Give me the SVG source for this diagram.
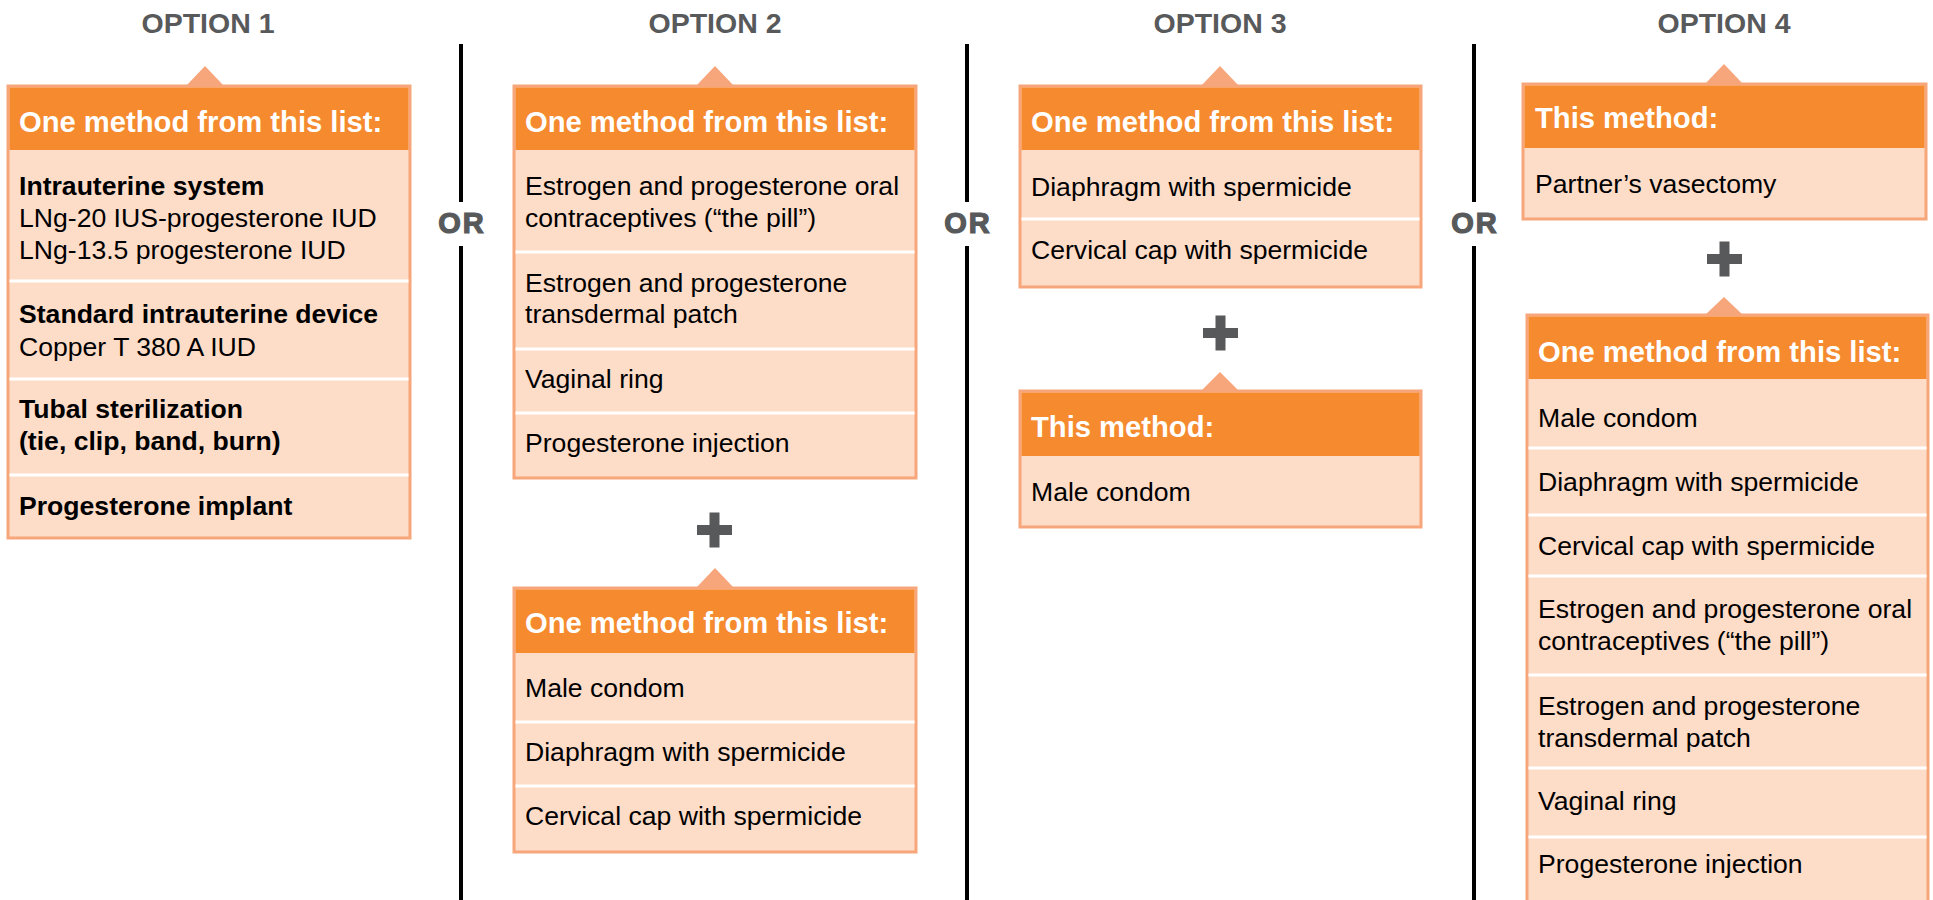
<svg xmlns="http://www.w3.org/2000/svg" width="1933" height="900" viewBox="0 0 1933 900">
<style>
.box{fill:#FDDCC8;stroke:#F7A67B;stroke-width:3}
.hdr{fill:#F58A2F}
.tri{fill:#F7A67B}
.sep{stroke:#FFFFFF;stroke-width:3}
.ht{font-family:"Liberation Sans",Arial,sans-serif;font-weight:bold;font-size:29.2px;fill:#FFFFFF}
.bt{font-family:"Liberation Sans",Arial,sans-serif;font-size:26.6px;fill:#000000}
.bb{font-family:"Liberation Sans",Arial,sans-serif;font-size:26.6px;font-weight:bold;fill:#000000}
.opt{font-family:"Liberation Sans",Arial,sans-serif;font-weight:bold;font-size:28.5px;fill:#58595B;text-anchor:middle}
.or{font-family:"Liberation Sans",Arial,sans-serif;font-weight:bold;font-size:29px;letter-spacing:2px;fill:#58595B;stroke:#58595B;stroke-width:1.2;text-anchor:middle}
.vl{stroke:#000000;stroke-width:4}
.plus{fill:#58595B}
</style>
<rect width="1933" height="900" fill="#FFFFFF"/>

<g id="connectors">
  <line class="vl" x1="461" y1="44" x2="461" y2="202"/>
  <line class="vl" x1="461" y1="246" x2="461" y2="900"/>
  <line class="vl" x1="967" y1="44" x2="967" y2="202"/>
  <line class="vl" x1="967" y1="246" x2="967" y2="900"/>
  <line class="vl" x1="1474" y1="44" x2="1474" y2="202"/>
  <line class="vl" x1="1474" y1="246" x2="1474" y2="900"/>
  <text class="or" x="462" y="233">OR</text>
  <text class="or" x="968" y="233">OR</text>
  <text class="or" x="1475" y="233">OR</text>
</g>

<g id="labels">
  <text class="opt" x="208" y="33">OPTION 1</text>
  <text class="opt" x="715" y="33">OPTION 2</text>
  <text class="opt" x="1220" y="33">OPTION 3</text>
  <text class="opt" x="1724" y="33">OPTION 4</text>
</g>

<g id="option1-list">
  <polygon class="tri" points="205,66 186,86 224,86"/>
  <rect class="box" x="8" y="86" width="402" height="452"/>
  <rect class="hdr" x="9.5" y="87.5" width="399" height="62.5"/>
  <line class="sep" x1="9.5" y1="281" x2="408.5" y2="281"/>
  <line class="sep" x1="9.5" y1="379" x2="408.5" y2="379"/>
  <line class="sep" x1="9.5" y1="475" x2="408.5" y2="475"/>
  <text class="ht" x="19" y="132">One method from this list:</text>
  <text class="bb" x="19" y="195">Intrauterine system</text>
  <text class="bt" x="19" y="227">LNg-20 IUS-progesterone IUD</text>
  <text class="bt" x="19" y="259">LNg-13.5 progesterone IUD</text>
  <text class="bb" x="19" y="323">Standard intrauterine device</text>
  <text class="bt" x="19" y="356">Copper T 380 A IUD</text>
  <text class="bb" x="19" y="418">Tubal sterilization</text>
  <text class="bb" x="19" y="450">(tie, clip, band, burn)</text>
  <text class="bb" x="19" y="515">Progesterone implant</text>
</g>

<g id="option2-list1">
  <polygon class="tri" points="715,66 696,86 734,86"/>
  <rect class="box" x="514" y="86" width="402" height="392"/>
  <rect class="hdr" x="515.5" y="87.5" width="399" height="62.5"/>
  <line class="sep" x1="515.5" y1="252" x2="914.5" y2="252"/>
  <line class="sep" x1="515.5" y1="349" x2="914.5" y2="349"/>
  <line class="sep" x1="515.5" y1="413" x2="914.5" y2="413"/>
  <text class="ht" x="525" y="132">One method from this list:</text>
  <text class="bt" x="525" y="195">Estrogen and progesterone oral</text>
  <text class="bt" x="525" y="227">contraceptives (“the pill”)</text>
  <text class="bt" x="525" y="292">Estrogen and progesterone</text>
  <text class="bt" x="525" y="323">transdermal patch</text>
  <text class="bt" x="525" y="388">Vaginal ring</text>
  <text class="bt" x="525" y="452">Progesterone injection</text>
</g>

<g id="option2-plus">
  <rect class="plus" x="697" y="525" width="35" height="10"/>
  <rect class="plus" x="709.5" y="512.5" width="10" height="35"/>
</g>

<g id="option2-list2">
  <polygon class="tri" points="715,568 696,588 734,588"/>
  <rect class="box" x="514" y="588" width="402" height="264"/>
  <rect class="hdr" x="515.5" y="589.5" width="399" height="63.5"/>
  <line class="sep" x1="515.5" y1="722" x2="914.5" y2="722"/>
  <line class="sep" x1="515.5" y1="786" x2="914.5" y2="786"/>
  <text class="ht" x="525" y="633">One method from this list:</text>
  <text class="bt" x="525" y="697">Male condom</text>
  <text class="bt" x="525" y="761">Diaphragm with spermicide</text>
  <text class="bt" x="525" y="825">Cervical cap with spermicide</text>
</g>

<g id="option3-list">
  <polygon class="tri" points="1220,66 1201,86 1239,86"/>
  <rect class="box" x="1020" y="86" width="401" height="201"/>
  <rect class="hdr" x="1021.5" y="87.5" width="398" height="62.5"/>
  <line class="sep" x1="1021.5" y1="219" x2="1419.5" y2="219"/>
  <text class="ht" x="1031" y="132">One method from this list:</text>
  <text class="bt" x="1031" y="196">Diaphragm with spermicide</text>
  <text class="bt" x="1031" y="259">Cervical cap with spermicide</text>
</g>

<g id="option3-plus">
  <rect class="plus" x="1203" y="328" width="35" height="10"/>
  <rect class="plus" x="1215.5" y="315.5" width="10" height="35"/>
</g>

<g id="option3-method">
  <polygon class="tri" points="1220,372 1201,391 1239,391"/>
  <rect class="box" x="1020" y="391" width="401" height="136"/>
  <rect class="hdr" x="1021.5" y="392.5" width="398" height="63.5"/>
  <text class="ht" x="1031" y="437">This method:</text>
  <text class="bt" x="1031" y="501">Male condom</text>
</g>

<g id="option4-method">
  <polygon class="tri" points="1724,64 1705,84 1743,84"/>
  <rect class="box" x="1523" y="84" width="403" height="135"/>
  <rect class="hdr" x="1524.5" y="85.5" width="400" height="62.5"/>
  <text class="ht" x="1535" y="128">This method:</text>
  <text class="bt" x="1535" y="193">Partner’s vasectomy</text>
</g>

<g id="option4-plus">
  <rect class="plus" x="1707" y="254" width="35" height="10"/>
  <rect class="plus" x="1719.5" y="241.5" width="10" height="35"/>
</g>

<g id="option4-list">
  <polygon class="tri" points="1724,297 1705,315 1743,315"/>
  <rect class="box" x="1527" y="315" width="401" height="600"/>
  <rect class="hdr" x="1528.5" y="316.5" width="398" height="62.5"/>
  <line class="sep" x1="1528.5" y1="448" x2="1926.5" y2="448"/>
  <line class="sep" x1="1528.5" y1="515" x2="1926.5" y2="515"/>
  <line class="sep" x1="1528.5" y1="576" x2="1926.5" y2="576"/>
  <line class="sep" x1="1528.5" y1="675" x2="1926.5" y2="675"/>
  <line class="sep" x1="1528.5" y1="768" x2="1926.5" y2="768"/>
  <line class="sep" x1="1528.5" y1="837" x2="1926.5" y2="837"/>
  <text class="ht" x="1538" y="362">One method from this list:</text>
  <text class="bt" x="1538" y="427">Male condom</text>
  <text class="bt" x="1538" y="491">Diaphragm with spermicide</text>
  <text class="bt" x="1538" y="555">Cervical cap with spermicide</text>
  <text class="bt" x="1538" y="618">Estrogen and progesterone oral</text>
  <text class="bt" x="1538" y="650">contraceptives (“the pill”)</text>
  <text class="bt" x="1538" y="715">Estrogen and progesterone</text>
  <text class="bt" x="1538" y="747">transdermal patch</text>
  <text class="bt" x="1538" y="810">Vaginal ring</text>
  <text class="bt" x="1538" y="873">Progesterone injection</text>
</g>
</svg>
